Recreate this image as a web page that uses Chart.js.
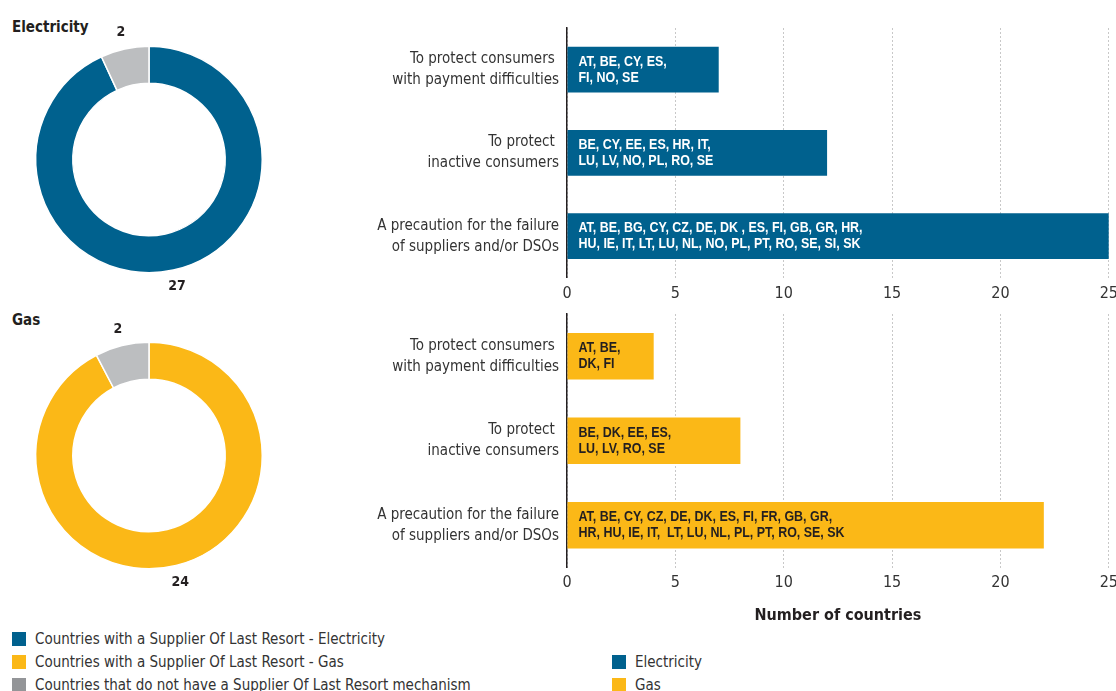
<!DOCTYPE html>
<html>
<head>
<meta charset="utf-8">
<script src="https://cdn.jsdelivr.net/npm/chart.js@4.4.1/dist/chart.umd.min.js"></script>
<style>
  body { margin: 0; background: #fff; width: 1116px; height: 691px; position: relative; overflow: hidden;
         font-family: "Liberation Sans Narrow", "Arial Narrow", "DejaVu Sans Condensed", sans-serif; color: #333; }
  .box { position: absolute; }
  .title { position: absolute; left: 12px; font-weight: bold; font-size: 15px; color: #231f20; }
  .leg { position: absolute; font-size: 15px; color: #333; display: flex; align-items: center; white-space: nowrap; }
  .leg span { display: inline-block; width: 14px; height: 14px; margin-right: 9px; }
</style>
</head>
<body>
<div class="title" style="top:18px">Electricity</div>
<div class="title" style="top:311px">Gas</div>
<div class="box" style="left:0;top:10px;width:298px;height:299px"><canvas id="donutElec"></canvas></div>
<div class="box" style="left:0;top:306px;width:298px;height:299px"><canvas id="donutGas"></canvas></div>
<div class="box" style="left:300px;top:-1px;width:824px;height:310px"><canvas id="barElec"></canvas></div>
<div class="box" style="left:300px;top:285px;width:824px;height:344px"><canvas id="barGas"></canvas></div>

<div class="leg" style="left:12px;top:630px"><span style="background:#00618e"></span>Countries with a Supplier Of Last Resort - Electricity</div>
<div class="leg" style="left:12px;top:653px"><span style="background:#fbb817"></span>Countries with a Supplier Of Last Resort - Gas</div>
<div class="leg" style="left:12px;top:676px"><span style="background:#939598"></span>Countries that do not have a Supplier Of Last Resort mechanism</div>
<div class="leg" style="left:612px;top:653px"><span style="background:#00618e"></span>Electricity</div>
<div class="leg" style="left:612px;top:676px"><span style="background:#fbb817"></span>Gas</div>

<script>
const FONT = '"Liberation Sans Narrow", "Arial Narrow", "DejaVu Sans Condensed", sans-serif';
const BLUE = '#00618e';
const YELLOW = '#fbb817';
const GREY = '#bcbec0';

// doughnuts: with SOLR / without
const elecDonut = [27, 2];
const gasDonut = [24, 2];

// bar charts
const reasons = [
  ['To protect consumers ', 'with payment difficulties'],
  ['To protect ', 'inactive consumers'],
  ['A precaution for the failure', 'of suppliers and/or DSOs']
];
const elecCounts = [7, 12, 25];
const gasCounts = [4, 8, 22];
const elecCountries = [
  ['AT, BE, CY, ES,', 'FI, NO, SE'],
  ['BE, CY, EE, ES, HR, IT,', 'LU, LV, NO, PL, RO, SE'],
  ['AT, BE, BG, CY, CZ, DE, DK , ES, FI, GB, GR, HR,', 'HU, IE, IT, LT, LU, NL, NO, PL, PT, RO, SE, SI, SK']
];
const gasCountries = [
  ['AT, BE,', 'DK, FI'],
  ['BE, DK, EE, ES,', 'LU, LV, RO, SE'],
  ['AT, BE, CY, CZ, DE, DK, ES, FI, FR, GB, GR,', 'HR, HU, IE, IT,  LT, LU, NL, PL, PT, RO, SE, SK']
];
const xTicks = [0, 5, 10, 15, 20, 25];

// number labels outside the doughnut slices
const donutLabels = {
  id: 'donutLabels',
  afterDatasetsDraw(chart) {
    const c = chart.ctx;
    const meta = chart.getDatasetMeta(0);
    c.save();
    c.font = 'bold 14px ' + FONT;
    c.fillStyle = '#231f20';
    c.textAlign = 'center';
    c.textBaseline = 'middle';
    meta.data.forEach((arc, i) => {
      const p = arc.getProps(['x', 'y', 'startAngle', 'endAngle', 'outerRadius'], true);
      const a = (p.startAngle + p.endAngle) / 2;
      const r = p.outerRadius + 17;
      c.fillText(chart.data.datasets[0].data[i], p.x + Math.cos(a) * r, p.y + Math.sin(a) * r);
    });
    c.restore();
  }
};

function makeDonut(id, values, color) {
  new Chart(document.getElementById(id), {
    type: 'doughnut',
    data: {
      labels: ['With SOLR', 'Without SOLR'],
      datasets: [{
        data: values,
        backgroundColor: [color, GREY],
        borderColor: '#fff',
        borderWidth: 1.5
      }]
    },
    options: {
      responsive: true,
      maintainAspectRatio: false,
      animation: false,
      cutout: '67.3%',
      layout: { padding: 35 },
      plugins: { legend: { display: false }, tooltip: { enabled: false } }
    },
    plugins: [donutLabels]
  });
}

// country codes written inside the bars (Arial squeezed to look like Arial Narrow)
const barText = {
  id: 'barText',
  afterDatasetsDraw(chart, args, opts) {
    const c = chart.ctx;
    const meta = chart.getDatasetMeta(0);
    const sx = 0.83;
    c.save();
    c.font = 'bold 15px "Liberation Sans", Arial, sans-serif';
    c.fillStyle = opts.color;
    c.textAlign = 'left';
    c.textBaseline = 'middle';
    meta.data.forEach((bar, i) => {
      const lines = opts.lines[i];
      lines.forEach((t, j) => {
        c.save();
        c.translate(bar.base + 11, bar.y + (j - (lines.length - 1) / 2) * 16);
        c.scale(sx, 1);
        c.fillText(t, 0, 0);
        c.restore();
      });
    });
    c.restore();
  }
};

function makeBar(id, values, color, countries, textColor, showTitle) {
  new Chart(document.getElementById(id), {
    type: 'bar',
    data: {
      labels: reasons,
      datasets: [{
        data: values,
        backgroundColor: color,
        barPercentage: 0.55,
        categoryPercentage: 1
      }]
    },
    options: {
      indexAxis: 'y',
      responsive: true,
      maintainAspectRatio: false,
      animation: false,
      layout: { padding: { top: 27, right: 0 } },
      scales: {
        x: {
          min: 0, max: 25,
          afterBuildTicks: s => { s.ticks = xTicks.map(v => ({ value: v })); },
          grid: { color: '#c8c8c8', lineWidth: 1, drawTicks: false },
          border: { display: false, dash: [2, 2] },
          ticks: { color: '#333', font: { family: FONT, size: 16 }, padding: 6 },
          title: {
            display: showTitle,
            text: 'Number of countries',
            color: '#231f20',
            font: { family: FONT, size: 16, weight: 'bold' },
            padding: { top: 7 }
          }
        },
        y: {
          afterFit: s => { s.width = 267; },
          grid: { display: false, drawTicks: false },
          border: { display: true, color: '#231f20', width: 1.5 },
          ticks: { color: '#333', font: { family: FONT, size: 15, lineHeight: 1.4 }, padding: 8 }
        }
      },
      plugins: {
        legend: { display: false },
        tooltip: { enabled: false },
        barText: { lines: countries, color: textColor }
      }
    },
    plugins: [barText]
  });
}

Chart.defaults.scale.grid.borderDash = [2, 2];

makeDonut('donutElec', elecDonut, BLUE);
makeDonut('donutGas', gasDonut, YELLOW);
makeBar('barElec', elecCounts, BLUE, elecCountries, '#fff', false);
makeBar('barGas', gasCounts, YELLOW, gasCountries, '#231f20', true);
</script>
</body>
</html>
